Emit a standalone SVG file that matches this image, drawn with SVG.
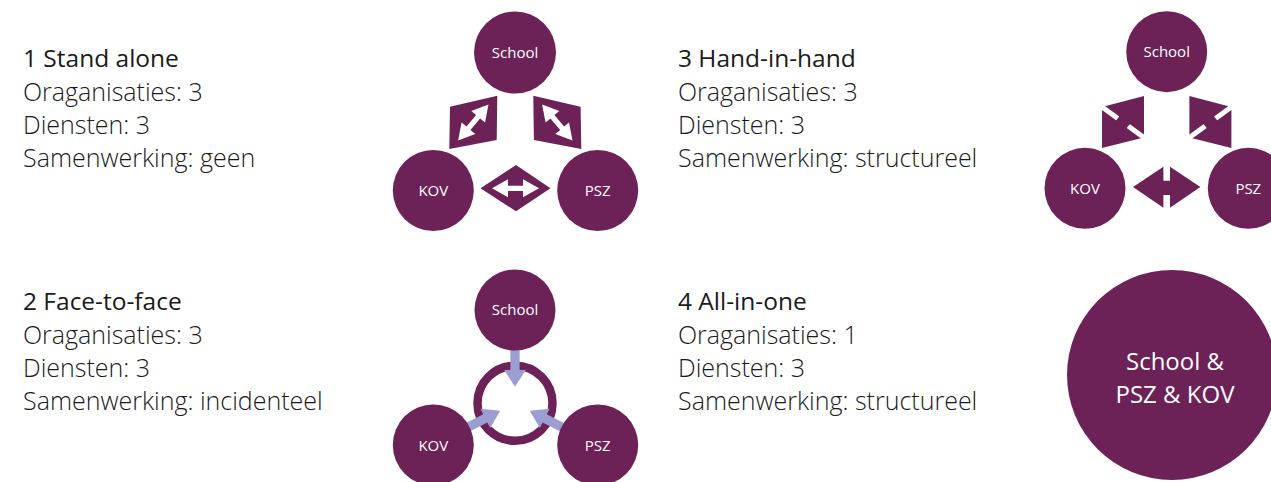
<svg xmlns="http://www.w3.org/2000/svg" xmlns:xlink="http://www.w3.org/1999/xlink" width="1271" height="482" viewBox="0 0 1271 482">
<style>
.node{fill:#6c2257}
.conn{fill:#6c2257}
.lbl{font-family:"Open Sans","Liberation Sans",sans-serif;font-size:15px;fill:#ffffff;text-anchor:middle}
.big{font-family:"Open Sans","Liberation Sans",sans-serif;font-size:24px;fill:#ffffff;text-anchor:middle}
.h{font-family:"Open Sans","Liberation Sans",sans-serif;font-size:24.5px;font-weight:500;fill:#1a1a1a}
.b{font-family:"Open Sans","Liberation Sans",sans-serif;font-size:25px;font-weight:300;fill:#1a1a1a}
.wa{fill:#ffffff}
.ba{fill:#9a9ed0}
</style>
<defs>
<path id="dbl" d="M23.5 0 L7.5 -9 L7.5 -2.6 L-7.5 -2.6 L-7.5 -9 L-23.5 0 L-7.5 9 L-7.5 2.6 L7.5 2.6 L7.5 9 Z"/>
<path id="inarrow" d="M-4.6 -56 L4.6 -56 L4.6 -33.3 L10.8 -33.3 L0 -16.6 L-10.8 -33.3 L-4.6 -33.3 Z"/>
<g id="split">
<polygon points="1102,107 1144,96 1144,137.5 1102,148"/>
<line x1="1098" y1="104.1" x2="1148" y2="140.4" stroke="#ffffff" stroke-width="5"/>
<line x1="1119.2" y1="126.95" x2="1126.8" y2="117.6" stroke="#6c2257" stroke-width="13"/>
</g>
</defs>

<g id="text-1">
<text class="h" x="23" y="66.7">1 Stand alone</text>
<text class="b" x="23" y="100.7">Oraganisaties: 3</text>
<text class="b" x="23" y="134">Diensten: 3</text>
<text class="b" x="23" y="166.7">Samenwerking: geen</text>
</g>
<g id="text-2">
<text class="h" x="23" y="310">2 Face-to-face</text>
<text class="b" x="23" y="344">Oraganisaties: 3</text>
<text class="b" x="23" y="377.3">Diensten: 3</text>
<text class="b" x="23" y="410">Samenwerking: incidenteel</text>
</g>
<g id="text-3">
<text class="h" x="678" y="66.7">3 Hand-in-hand</text>
<text class="b" x="678" y="100.7">Oraganisaties: 3</text>
<text class="b" x="678" y="134">Diensten: 3</text>
<text class="b" x="678" y="166.7">Samenwerking: structureel</text>
</g>
<g id="text-4">
<text class="h" x="678" y="310">4 All-in-one</text>
<text class="b" x="678" y="344">Oraganisaties: 1</text>
<text class="b" x="678" y="377.3">Diensten: 3</text>
<text class="b" x="678" y="410">Samenwerking: structureel</text>
</g>

<g id="connectors">
<g id="d1-connectors">
<polygon class="conn" points="450,106.7 497.3,95.7 496.7,140 449.3,149"/>
<use xlink:href="#dbl" href="#dbl" class="wa" transform="translate(473.3,122.5) rotate(-49.7)"/>
<polygon class="conn" points="533.3,95.7 580.6,106.7 581.3,149 533.9,140"/>
<use xlink:href="#dbl" href="#dbl" class="wa" transform="translate(557.3,122.5) rotate(49.7)"/>
<polygon class="conn" points="480.5,188.3 516,165 550.5,188.3 516,211.3"/>
<use xlink:href="#dbl" href="#dbl" class="wa" transform="translate(515.5,188.3)"/>
</g>
<g id="d2-connectors">
<circle cx="515" cy="403.3" r="37.5" fill="none" stroke="#6c2257" stroke-width="8.5"/>
<use xlink:href="#inarrow" href="#inarrow" class="ba" transform="translate(515,403.3)"/>
<use xlink:href="#inarrow" href="#inarrow" class="ba" transform="translate(515,403.3) rotate(-117)"/>
<use xlink:href="#inarrow" href="#inarrow" class="ba" transform="translate(515,403.3) rotate(117)"/>
</g>
<g id="d3-connectors" class="conn">
<use xlink:href="#split" href="#split"/>
<use xlink:href="#split" href="#split" transform="matrix(-1 0 0 1 2333.4 0)"/>
<path d="M1133 187 L1163.4 166.7 L1163.4 180.7 L1170 180.7 L1170 166.7 L1200.4 187 L1170 207.7 L1170 195 L1163.4 195 L1163.4 207.7 Z"/>
</g>
</g>

<g id="d1-school"><circle class="node" cx="515" cy="52.5" r="41"/><text class="lbl" x="515" y="57.5">School</text></g>
<g id="d1-kov"><circle class="node" cx="433.3" cy="190.5" r="40.5"/><text class="lbl" x="433.3" y="196">KOV</text></g>
<g id="d1-psz"><circle class="node" cx="597.7" cy="190.5" r="40.5"/><text class="lbl" x="597.7" y="196">PSZ</text></g>

<g id="d2-school"><circle class="node" cx="515" cy="310" r="40.5"/><text class="lbl" x="515" y="315">School</text></g>
<g id="d2-kov"><circle class="node" cx="433.3" cy="445" r="40.5"/><text class="lbl" x="433.3" y="450.5">KOV</text></g>
<g id="d2-psz"><circle class="node" cx="597.7" cy="445" r="40.5"/><text class="lbl" x="597.7" y="450.5">PSZ</text></g>

<g id="d3-school"><circle class="node" cx="1166.7" cy="51.7" r="40.5"/><text class="lbl" x="1166.7" y="56.7">School</text></g>
<g id="d3-kov"><circle class="node" cx="1085" cy="188.3" r="40.5"/><text class="lbl" x="1085" y="193.8">KOV</text></g>
<g id="d3-psz"><circle class="node" cx="1248.3" cy="188.3" r="40.5"/><text class="lbl" x="1248.3" y="193.8">PSZ</text></g>

<g id="d4-all"><circle class="node" cx="1172" cy="375" r="105"/><text class="big" x="1175" y="370">School &amp;</text><text class="big" x="1175" y="403">PSZ &amp; KOV</text></g>
</svg>
